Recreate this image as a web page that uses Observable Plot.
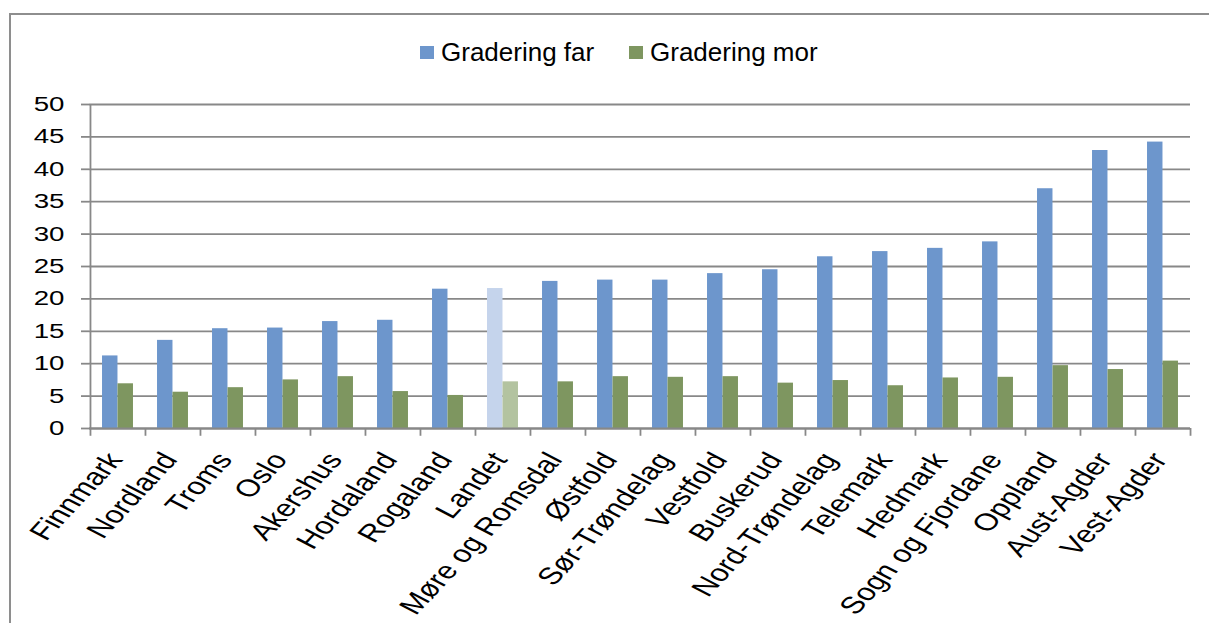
<!DOCTYPE html>
<html>
<head>
<meta charset="utf-8">
<script src="https://cdn.jsdelivr.net/npm/d3@7"></script>
<script src="https://cdn.jsdelivr.net/npm/@observablehq/plot@0.6"></script>
<style>
  body { margin: 0; background: #fff; font-family: "Liberation Sans", Arial, sans-serif; }
  #wrap { position: relative; width: 1209px; height: 623px; overflow: hidden; background: #fff; }
  #border { position: absolute; left: 9px; top: 13px; width: 1400px; height: 800px;
            border-left: 2px solid #8e8e8e; border-top: 2px solid #8e8e8e; pointer-events: none; }
  #legend { position: relative; height: 80px; }
  .item { position: absolute; top: 37px; display: flex; align-items: center; font-size: 26px; color: #000; white-space: nowrap; }
  .sw { width: 14px; height: 13px; margin-right: 7px; }
  #chart { position: relative; }
</style>
</head>
<body>
<div id="wrap">
  <div id="border"></div>
  <div id="legend"></div>
  <div id="chart"></div>
</div>
<script>
const categories = ["Finnmark","Nordland","Troms","Oslo","Akershus","Hordaland","Rogaland","Landet",
  "Møre og Romsdal","Østfold","Sør-Trøndelag","Vestfold","Buskerud","Nord-Trøndelag","Telemark",
  "Hedmark","Sogn og Fjordane","Oppland","Aust-Agder","Vest-Agder"];
const graderingFar = [11.2,13.6,15.4,15.5,16.5,16.7,21.5,21.6,22.7,22.9,22.9,23.9,24.5,26.5,27.3,27.8,28.8,37.0,42.9,44.2];
const graderingMor = [6.9,5.6,6.3,7.5,8.0,5.7,5.1,7.2,7.2,8.0,7.9,8.0,7.0,7.4,6.6,7.8,7.9,9.7,9.1,10.4];
const yTicks = [0,5,10,15,20,25,30,35,40,45,50];
const seriesNames = ["Gradering far","Gradering mor"];
const colors = {far: "#6d96cc", mor: "#7e9660", farLight: "#c5d4ec", morLight: "#b3c3a0"};
const highlight = "Landet";

const far = categories.map((c, i) => ({cat: c, value: graderingFar[i]}));
const mor = categories.map((c, i) => ({cat: c, value: graderingMor[i]}));

// legend
const legend = document.getElementById("legend");
[[seriesNames[0], colors.far, 420], [seriesNames[1], colors.mor, 629]].forEach(([name, col, left]) => {
  const it = document.createElement("div");
  it.className = "item";
  it.style.left = left + "px";
  it.innerHTML = `<span class="sw" style="background:${col}"></span><span>${name}</span>`;
  legend.appendChild(it);
});

const W = 1209, mL = 89, mR = 19, mT = 24, mB = 195, H = 543;
const bw = (W - mL - mR) / categories.length;
const barW = 15.5;
const gray = "#888888";
const SX = 1.35;

const chart = Plot.plot({
  width: W, height: H,
  marginLeft: mL, marginRight: mR, marginTop: mT, marginBottom: mB,
  style: {fontFamily: "'Liberation Sans', Arial, sans-serif", color: "#000", background: "transparent", overflow: "visible"},
  x: {type: "band", domain: categories, padding: 0},
  y: {domain: [0, 50]},
  marks: [
    Plot.gridY(yTicks, {stroke: gray, strokeOpacity: 1, strokeWidth: 1.8}),
    Plot.barY(far, {x: "cat", y: "value", insetLeft: bw/2 - barW, insetRight: bw/2,
      fill: d => d.cat === highlight ? colors.farLight : colors.far}),
    Plot.barY(mor, {x: "cat", y: "value", insetLeft: bw/2, insetRight: bw/2 - barW,
      fill: d => d.cat === highlight ? colors.morLight : colors.mor}),
    Plot.ruleY([0], {stroke: gray, strokeWidth: 1.8}),
    Plot.ruleX([categories[0]], {x: d => d, y1: 0, y2: 50, dx: -bw/2, stroke: gray, strokeWidth: 1.8}),
    Plot.ruleX(categories, {x: d => d, y1: 0, y2: -1.2, dx: -bw/2, stroke: gray, strokeWidth: 1.8}),
    Plot.ruleX([categories[categories.length-1]], {x: d => d, y1: 0, y2: -1.2, dx: bw/2, stroke: gray, strokeWidth: 1.8}),
    Plot.axisY(yTicks, {tickSize: 8, tickPadding: 17, fontSize: 20.5, stroke: gray, strokeWidth: 1.8, label: null}),
    Plot.axisX({tickSize: 0, tickRotate: -55, fontSize: 24, tickPadding: 27, dx: -3, label: null})
  ]
});

// horizontal stretch of axis texts (reference text is horizontally widened)
d3.select(chart).selectAll("g[aria-label='y-axis tick label'] text, g[aria-label='x-axis tick label'] text").each(function() {
  const t = this.getAttribute("transform");
  if (t && t.includes("rotate(")) {
    this.setAttribute("transform", t.replace("rotate(", `scale(${SX},1) rotate(`));
  } else if (t) {
    this.setAttribute("transform", t + ` scale(${SX},1)`);
  } else {
    const x = this.getAttribute("x") || 0, y = this.getAttribute("y") || 0;
    this.removeAttribute("x"); this.removeAttribute("y");
    this.setAttribute("transform", `translate(${x},${y}) scale(${SX},1)`);
  }
});
document.getElementById("chart").appendChild(chart);
</script>
</body>
</html>
